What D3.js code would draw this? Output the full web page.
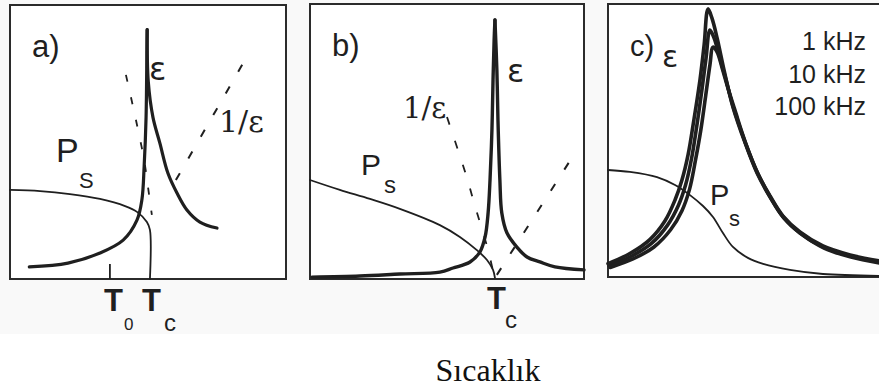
<!DOCTYPE html>
<html>
<head>
<meta charset="utf-8">
<script src="https://cdn.jsdelivr.net/npm/d3@7"></script>
<style>
  html, body { margin: 0; padding: 0; background: #fff; }
  svg { display: block; }
</style>
</head>
<body>
<svg id="chart" width="879" height="389"></svg>
<script>
// ---- Text ----
const panelLetters = ["a)", "b)", "c)"];
const freqLabels = ["1 kHz", "10 kHz", "100 kHz"];
const axisTitle = "Sıcaklık";

// All curves are in relative units: temperature 0–100 across a panel, response 0–100 up a panel.

// ---- a) first-order transition ----
const aT0 = 36.2;
const aTc = 50.7;
const aEpsBelow = [[7, 4.4], [21, 5.8], [32.6, 9.5], [41, 14.2], [46, 21.5], [47.8, 29], [48.6, 41], [49.3, 59], [49.6, 84], [49.7, 91]];
const aEpsAbove = [[49.7, 91], [50.1, 72], [51.8, 59], [54.3, 49.6], [57.2, 38.7], [60.5, 31.4], [64.1, 25.2], [68.8, 20.8], [75, 18.6]];
const aPs = [[0, 32.5], [10.9, 32.1], [21.7, 31], [32.6, 29.2], [41.7, 26.6], [46, 24.5], [49.6, 20.8], [50.7, 17.9], [50.7, 0]];
const aInvEpsBelow = [[42, 74.5], [44.6, 62.8], [46.4, 54.4], [48.6, 43.4], [50, 33.6], [51.4, 23.4]];
const aInvEpsAbove = [[60.1, 36.1], [85.1, 79.9]];

// ---- b) second-order transition ----
const bTc = 67.5;
const bEpsBelow = [[0.7, 0.7], [18.2, 1.1], [32.8, 1.8], [47.4, 2.5], [52.2, 4], [58.4, 6.2], [62, 9.8], [63.9, 15.3], [65, 24], [65.7, 36], [66.4, 54.2], [66.8, 72.4], [67.2, 86.9], [67.5, 94.2]];
const bEpsAbove = [[67.5, 94.2], [68.2, 76], [68.6, 57.8], [69.3, 36], [70, 24], [71.9, 16.7], [75.5, 11.6], [79.2, 8], [83.9, 6.2], [89.4, 4.4], [100, 3.3]];
const bPs = [[0, 36], [10.9, 32.4], [21.9, 29.1], [32.8, 25.5], [47.4, 19.6], [54.7, 15.3], [60.9, 10.5], [64.6, 6.9], [66.8, 3.3], [67.5, 0.4]];
const bInvEpsBelow = [[50, 58.9], [54, 46.9], [57.3, 36.7], [59.9, 27.6], [62.4, 19.3], [65, 10.5], [67.2, 1.1]];
const bInvEpsAbove = [[68.2, 1.5], [96.7, 45.8]];

// ---- c) relaxor, three measuring frequencies ----
const cEps1k = [[0, 4.9], [7.9, 8.6], [15.2, 13.8], [20.6, 20.6], [24.2, 28.2], [26.7, 35.5], [28.9, 44.7], [31, 57.5], [33.2, 72.2], [34.7, 85], [36.1, 98.2],
  [37.5, 94.9], [39.4, 87.5], [41.9, 75.8], [45.1, 62.3], [49.5, 49.1], [53.8, 38.1], [58.5, 29.3], [63.2, 22], [69.3, 16.1], [77.6, 11], [87.4, 7.7], [97.8, 5.5]];
const cEps10k = [[0.3, 4.2], [8.4, 7.6], [15.8, 12.4], [21.5, 19], [25.4, 26.2], [28, 33.7], [30.2, 43.6], [32.1, 55.7], [33.9, 68.5], [35.4, 80.2], [36.8, 90.5],
  [38.3, 87.5], [40.1, 81.3], [42.6, 72.2], [45.1, 62.6], [49.5, 49.5], [53.8, 38.5], [58.5, 29.7], [63.2, 22.3], [69.3, 16.5], [77.6, 11.4], [87.4, 8.1], [97.8, 5.9]];
const cEps100k = [[0.8, 3.5], [9, 6.6], [16.6, 11], [22.6, 17.3], [26.7, 24.3], [29.4, 32], [31.6, 42.9], [33.5, 53.8], [35.3, 66.7], [36.8, 77.7], [37.9, 84.2],
  [39.4, 82.4], [41.2, 76.6], [43.3, 69.2], [45.8, 61.2], [49.8, 48.7], [54.2, 37.7], [58.8, 28.9], [63.5, 21.6], [69.7, 15.8], [78, 10.6], [87.7, 7.3], [98.2, 5.1]];
const cPs = [[0, 39.2], [7.9, 38.5], [17.7, 36.6], [24.2, 33.7], [29.6, 30], [34.3, 26], [37.9, 22], [41.5, 16.1], [45.1, 11], [50.5, 7], [56, 4.8], [65.7, 2.6], [77.6, 1.1], [100, 0.4]];

// ---- Layout ----
const ink = "#1f1f1f";
const svg = d3.select("#chart");

// scanned sheet tint behind the panels
svg.append("rect").attr("x", 0).attr("y", 0).attr("width", 879).attr("height", 334).attr("fill", "#f9f9f9");

const boxes = [
  { x0: 10, x1: 286, y0: 5, y1: 279 },
  { x0: 310, x1: 584, y0: 4, y1: 279 },
  { x0: 608, x1: 885, y0: 4, y1: 277 }
];

function scalesFor(b) {
  return {
    x: d3.scaleLinear().domain([0, 100]).range([b.x0, b.x1]),
    y: d3.scaleLinear().domain([0, 100]).range([b.y1, b.y0])
  };
}

function curve(g, s, data, width, dash) {
  const line = d3.line()
    .x(d => s.x(d[0]))
    .y(d => s.y(d[1]))
    .curve(d3.curveCatmullRom.alpha(0.5));
  const p = g.append("path")
    .attr("d", line(data))
    .attr("fill", "none")
    .attr("stroke", ink)
    .attr("stroke-width", width)
    .attr("stroke-linecap", "round")
    .attr("stroke-linejoin", "round");
  if (dash) p.attr("stroke-dasharray", dash).attr("stroke-linecap", "butt");
  return p;
}

const sans = "'Liberation Sans', Arial, sans-serif";
const greek = "'DejaVu Sans', sans-serif";
const greekSerif = "'DejaVu Serif', serif";
const serif = "'Liberation Serif', 'Times New Roman', serif";

function text(g, x, y, str, size, opts = {}) {
  return g.append("text")
    .attr("x", x).attr("y", y)
    .attr("font-family", opts.family || sans)
    .attr("font-size", size)
    .attr("font-weight", opts.weight || "normal")
    .attr("text-anchor", opts.anchor || "start")
    .attr("fill", ink)
    .text(str);
}

boxes.forEach((b, i) => {
  const g = svg.append("g");
  g.append("rect")
    .attr("x", b.x0).attr("y", b.y0)
    .attr("width", b.x1 - b.x0).attr("height", b.y1 - b.y0)
    .attr("fill", "#fff")
    .attr("stroke", "#2b2b2b").attr("stroke-width", 2);
  text(g, b.x0 + 22, b.y0 + 52, panelLetters[i], i === 2 ? 29 : 31);
});

// ---- panel a ----
{
  const g = svg.append("g");
  const s = scalesFor(boxes[0]);
  curve(g, s, aInvEpsAbove, 2, "8,17");
  curve(g, s, aInvEpsBelow, 1.8, "7,16");
  curve(g, s, aPs, 1.8);
  curve(g, s, aEpsBelow, 3.2);
  curve(g, s, aEpsAbove, 3.2);
  // T0 marker on the temperature axis
  g.append("line")
    .attr("x1", s.x(aT0)).attr("x2", s.x(aT0))
    .attr("y1", s.y(0)).attr("y2", s.y(5.5))
    .attr("stroke", ink).attr("stroke-width", 1.8);

  text(g, 149, 80, "ε", 32, { family: greek });
  text(g, 219, 132, "1/ε", 30, { family: greekSerif });
  text(g, 56, 162, "P", 34);
  text(g, 79, 188, "S", 22);
  text(g, s.x(aT0) - 6, 311, "T", 31, { weight: "bold" });
  text(g, s.x(aT0) + 14, 330, "0", 17);
  text(g, s.x(aTc) - 8, 311, "T", 31, { weight: "bold" });
  text(g, s.x(aTc) + 14, 331, "c", 24);
}

// ---- panel b ----
{
  const g = svg.append("g");
  const s = scalesFor(boxes[1]);
  curve(g, s, bInvEpsBelow, 1.8, "8,17");
  curve(g, s, bInvEpsAbove, 2, "8,17");
  curve(g, s, bPs, 1.8);
  curve(g, s, bEpsBelow, 3.4);
  curve(g, s, bEpsAbove, 3.4);

  text(g, 507, 82, "ε", 32, { family: greek });
  text(g, 403, 118, "1/ε", 29, { family: greekSerif });
  text(g, 361, 175, "P", 30);
  text(g, 384, 193, "s", 24);
  text(g, s.x(bTc) - 8, 309, "T", 31, { weight: "bold" });
  text(g, s.x(bTc) + 10, 328, "c", 24);
}

// ---- panel c ----
{
  const g = svg.append("g");
  const s = scalesFor(boxes[2]);
  curve(g, s, cPs, 1.8);
  [cEps100k, cEps10k, cEps1k].forEach(d => curve(g, s, d, 3.6));

  text(g, 662, 67, "ε", 30, { family: greek });
  freqLabels.forEach((f, i) => text(g, 866, 50 + i * 32.5, f, 25, { anchor: "end" }));
  text(g, 710, 205, "P", 29);
  text(g, 729, 226, "s", 22);
}

// ---- temperature axis title ----
svg.append("text")
  .attr("x", 488).attr("y", 381)
  .attr("font-family", serif)
  .attr("font-size", 32)
  .attr("text-anchor", "middle")
  .attr("fill", "#111")
  .text(axisTitle);
</script>
</body>
</html>
